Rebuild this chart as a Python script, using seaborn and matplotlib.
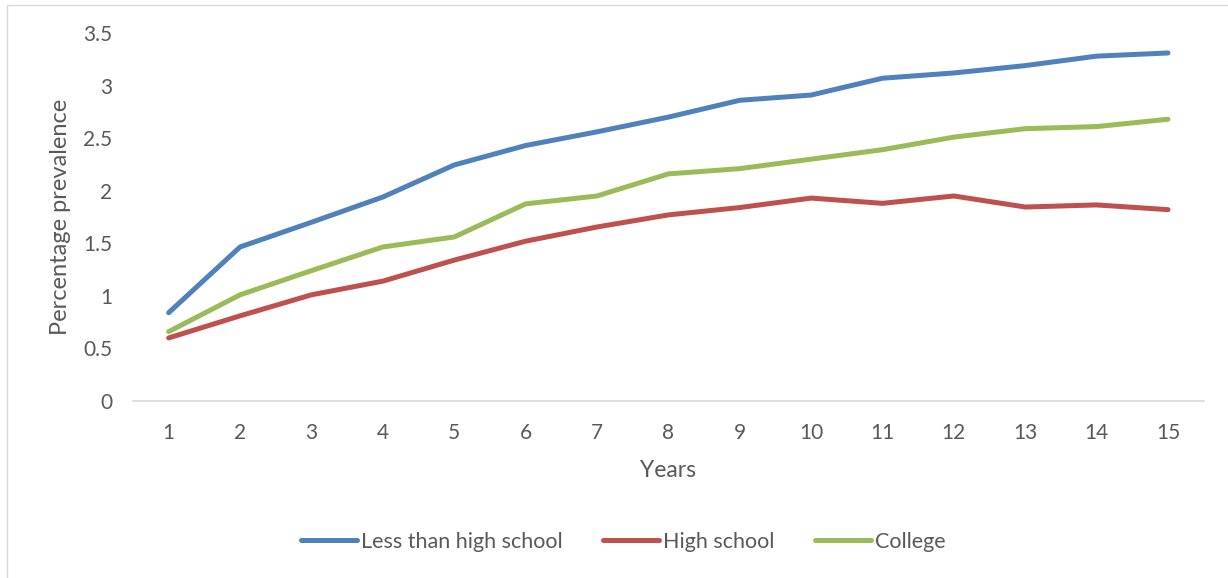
import matplotlib
matplotlib.use("Agg")
import matplotlib.pyplot as plt
from matplotlib.lines import Line2D
from matplotlib.patches import Rectangle
import pandas as pd
import seaborn as sns

years = list(range(1, 16))
less_than_high_school = [0.84, 1.465, 1.70, 1.94, 2.245, 2.43, 2.56, 2.70, 2.86, 2.91, 3.07, 3.12, 3.19, 3.28, 3.31]
high_school = [0.60, 0.81, 1.01, 1.14, 1.34, 1.52, 1.655, 1.77, 1.84, 1.93, 1.88, 1.95, 1.845, 1.865, 1.82]
college = [0.66, 1.01, 1.24, 1.465, 1.56, 1.875, 1.95, 2.16, 2.21, 2.30, 2.39, 2.51, 2.59, 2.61, 2.68]
series_names = ["Less than high school", "High school", "College"]
colors = ["#4F81BD", "#C0504D", "#9BBB59"]
y_ticks = [0, 0.5, 1, 1.5, 2, 2.5, 3, 3.5]
y_tick_labels = ["0", "0.5", "1", "1.5", "2", "2.5", "3", "3.5"]

df = pd.DataFrame({
    "Years": years * 3,
    "Prevalence": less_than_high_school + high_school + college,
    "Group": [series_names[0]] * 15 + [series_names[1]] * 15 + [series_names[2]] * 15,
})

sns.set_theme(style="white")
plt.rcParams["font.family"] = ["Lato", "DejaVu Sans"]

fig = plt.figure(figsize=(12.28, 5.78), dpi=100)
ax = fig.add_axes([0.1083, 0.3062, 0.8719, 0.6367])

sns.lineplot(data=df, x="Years", y="Prevalence", hue="Group", hue_order=series_names,
             palette=colors, linewidth=3.6, ax=ax, legend=False,
             solid_capstyle="round", solid_joinstyle="round")

ax.set_xlim(0.5, 15.5)
ax.set_ylim(0, 3.5)
ax.set_xticks(years)
ax.set_xticklabels([str(y) for y in years])
ax.set_yticks(y_ticks)
ax.set_yticklabels(y_tick_labels)

for side in ["top", "right", "left"]:
    ax.spines[side].set_visible(False)
ax.spines["bottom"].set_color("#d9d9d9")
ax.spines["bottom"].set_linewidth(1.2)
ax.tick_params(axis="both", length=0, labelsize=15, labelcolor="#595959")
ax.tick_params(axis="x", pad=16)
ax.tick_params(axis="y", pad=15)

ax.set_xlabel("Years", fontsize=16.5, color="#595959", labelpad=12)
ax.set_ylabel("Percentage prevalence", fontsize=17, color="#595959", labelpad=9)

handles = [Line2D([0], [0], color=c, linewidth=3.6, solid_capstyle="round") for c in colors]
fig.legend(handles, series_names, loc="center", bbox_to_anchor=(0.5077, 1 - 542 / 578),
           ncol=3, frameon=False, fontsize=15.5, labelcolor="#595959",
           handlelength=2.6, handletextpad=0.2, columnspacing=1.86)

fig.add_artist(Rectangle((7 / 1228, -0.02), 1.05, 1 - 5 / 578 + 0.02,
                         transform=fig.transFigure, fill=False,
                         edgecolor="#d9d9d9", linewidth=1.0))

fig.savefig("out.png", dpi=100, facecolor="white")
